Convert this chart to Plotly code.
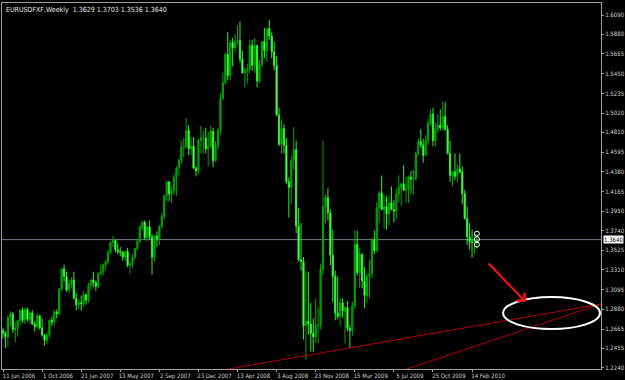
import pandas as pd
import plotly.graph_objects as go

symbol_title = "EURUSDFXF,Weekly"
week_start = "2006-06-11"
first_open = 1.2650

closes = [
    1.2620, 1.2580, 1.2790, 1.2830, 1.2660, 1.2670, 1.2760, 1.2870, 1.2760, 1.2880,
    1.2770, 1.2840, 1.2720, 1.2690, 1.2810, 1.2680, 1.2600, 1.2540, 1.2600, 1.2760,
    1.2740, 1.2850, 1.2830, 1.3100, 1.3320, 1.3240, 1.3090, 1.3160, 1.3200, 1.3000,
    1.2930, 1.2950, 1.2940, 1.3040, 1.2980, 1.3140, 1.3200, 1.3170, 1.3130, 1.3270,
    1.3290, 1.3360, 1.3400, 1.3500, 1.3610, 1.3630, 1.3530, 1.3510, 1.3500, 1.3450,
    1.3510, 1.3360, 1.3370, 1.3450, 1.3540, 1.3620, 1.3780, 1.3830, 1.3660, 1.3780,
    1.3670, 1.3450, 1.3680, 1.3650, 1.3780, 1.3890, 1.4120, 1.4270, 1.4140, 1.4180,
    1.4320, 1.4420, 1.4500, 1.4650, 1.4650, 1.4830, 1.4630, 1.4660, 1.4420, 1.4390,
    1.4720, 1.4750, 1.4750, 1.4630, 1.4660, 1.4820, 1.4500, 1.4660, 1.4830, 1.5180,
    1.5350, 1.5660, 1.5430, 1.5790, 1.5730, 1.5800, 1.5810, 1.5610, 1.5460, 1.5480,
    1.5500, 1.5760, 1.5540, 1.5760, 1.5370, 1.5550, 1.5800, 1.5700, 1.5940, 1.5860,
    1.5690, 1.5540, 1.5000, 1.4680, 1.4850, 1.4670, 1.4270, 1.4210, 1.4500, 1.4620,
    1.3790, 1.3420, 1.3400, 1.2700, 1.2750, 1.2720, 1.2620, 1.2580, 1.2700, 1.2710,
    1.3320, 1.4000, 1.4100, 1.3930, 1.3470, 1.3240, 1.2840, 1.2800, 1.2950, 1.2860,
    1.2900, 1.2670, 1.2650, 1.2920, 1.3590, 1.3280, 1.3480, 1.3190, 1.3030, 1.3240,
    1.3270, 1.3640, 1.3520, 1.3990, 1.4150, 1.3970, 1.4000, 1.3920, 1.4040, 1.3970,
    1.3950, 1.4140, 1.4210, 1.4250, 1.4180, 1.4190, 1.4320, 1.4300, 1.4310, 1.4580,
    1.4710, 1.4670, 1.4560, 1.4720, 1.4910, 1.5010, 1.4720, 1.4850, 1.4890, 1.4860,
    1.4980, 1.4840, 1.4580, 1.4340, 1.4380, 1.4330, 1.4410, 1.4380, 1.4140, 1.3870,
    1.3670, 1.3620, 1.3610, 1.3629, 1.3640,
]
highs = [
    1.2680, 1.2640, 1.2810, 1.2860, 1.2850, 1.2740, 1.2760, 1.2880, 1.2900, 1.2900,
    1.2900, 1.2860, 1.2870, 1.2750, 1.2840, 1.2820, 1.2780, 1.2610, 1.2630, 1.2770,
    1.2800, 1.2870, 1.2880, 1.3110, 1.3330, 1.3367, 1.3290, 1.3210, 1.3230, 1.3290,
    1.3060, 1.2990, 1.3030, 1.3080, 1.3050, 1.3170, 1.3210, 1.3290, 1.3190, 1.3280,
    1.3370, 1.3380, 1.3420, 1.3530, 1.3620, 1.3682, 1.3640, 1.3600, 1.3560, 1.3520,
    1.3520, 1.3550, 1.3400, 1.3480, 1.3550, 1.3650, 1.3800, 1.3850, 1.3850, 1.3790,
    1.3850, 1.3700, 1.3690, 1.3730, 1.3800, 1.3930, 1.4130, 1.4280, 1.4280, 1.4230,
    1.4350, 1.4440, 1.4530, 1.4730, 1.4750, 1.4966, 1.4890, 1.4760, 1.4760, 1.4440,
    1.4740, 1.4880, 1.4830, 1.4860, 1.4820, 1.4880, 1.4860, 1.4720, 1.4860, 1.5240,
    1.5460, 1.5680, 1.5904, 1.5820, 1.5840, 1.5880, 1.5980, 1.6019, 1.5700, 1.5520,
    1.5560, 1.5820, 1.5820, 1.5840, 1.5760, 1.5600, 1.5800, 1.5950, 1.5950, 1.6038,
    1.5900, 1.5800, 1.5640, 1.5080, 1.4940, 1.4900, 1.4750, 1.4320, 1.4560, 1.4867,
    1.4720, 1.3990, 1.3820, 1.3450, 1.3300, 1.3290, 1.2950, 1.2780, 1.3000, 1.2900,
    1.3380, 1.4719, 1.4130, 1.4200, 1.3970, 1.3750, 1.3300, 1.3240, 1.3000, 1.3000,
    1.2910, 1.2970, 1.2710, 1.2960, 1.3740, 1.3740, 1.3550, 1.3490, 1.3340, 1.3270,
    1.3420, 1.3660, 1.3740, 1.4050, 1.4170, 1.4340, 1.4130, 1.4110, 1.4120, 1.4220,
    1.4070, 1.4200, 1.4340, 1.4250, 1.4450, 1.4330, 1.4340, 1.4390, 1.4400, 1.4600,
    1.4740, 1.4845, 1.4740, 1.4780, 1.4960, 1.5060, 1.5080, 1.4920, 1.5010, 1.5060,
    1.5144, 1.5140, 1.4890, 1.4720, 1.4390, 1.4580, 1.4460, 1.4580, 1.4440, 1.4180,
    1.4000, 1.3820, 1.3750, 1.3690, 1.3703,
]
lows = [
    1.2560, 1.2457, 1.2470, 1.2700, 1.2620, 1.2520, 1.2580, 1.2700, 1.2730, 1.2720,
    1.2750, 1.2720, 1.2710, 1.2640, 1.2660, 1.2660, 1.2580, 1.2484, 1.2500, 1.2570,
    1.2700, 1.2700, 1.2780, 1.2830, 1.3080, 1.3180, 1.3070, 1.3060, 1.3110, 1.2990,
    1.2870, 1.2880, 1.2866, 1.2900, 1.2930, 1.2950, 1.3090, 1.3120, 1.3080, 1.3110,
    1.3250, 1.3250, 1.3310, 1.3370, 1.3480, 1.3560, 1.3500, 1.3480, 1.3460, 1.3410,
    1.3410, 1.3340, 1.3270, 1.3330, 1.3420, 1.3520, 1.3600, 1.3740, 1.3640, 1.3620,
    1.3640, 1.3260, 1.3400, 1.3560, 1.3580, 1.3760, 1.3860, 1.4060, 1.4060, 1.4040,
    1.4120, 1.4120, 1.4340, 1.4460, 1.4540, 1.4650, 1.4560, 1.4560, 1.4410, 1.4330,
    1.4350, 1.4580, 1.4580, 1.4580, 1.4440, 1.4640, 1.4430, 1.4490, 1.4620, 1.4780,
    1.5160, 1.5330, 1.5380, 1.5380, 1.5530, 1.5680, 1.5760, 1.5570, 1.5450, 1.5300,
    1.5340, 1.5450, 1.5480, 1.5460, 1.5300, 1.5350, 1.5520, 1.5620, 1.5580, 1.5820,
    1.5620, 1.5490, 1.4990, 1.4660, 1.4580, 1.4580, 1.4250, 1.3880, 1.4030, 1.4400,
    1.3710, 1.3400, 1.3300, 1.2550, 1.2330, 1.2600, 1.2420, 1.2420, 1.2510, 1.2510,
    1.2660, 1.3250, 1.3820, 1.3850, 1.3360, 1.2960, 1.2760, 1.2770, 1.2700, 1.2790,
    1.2510, 1.2640, 1.2457, 1.2590, 1.2880, 1.3250, 1.3110, 1.3110, 1.2890, 1.2950,
    1.3000, 1.3220, 1.3480, 1.3500, 1.3820, 1.3960, 1.3760, 1.3750, 1.3800, 1.3960,
    1.3830, 1.3860, 1.4050, 1.4010, 1.4170, 1.4040, 1.4040, 1.4140, 1.4130, 1.4280,
    1.4550, 1.4640, 1.4480, 1.4560, 1.4670, 1.4880, 1.4660, 1.4660, 1.4800, 1.4830,
    1.4830, 1.4830, 1.4570, 1.4270, 1.4220, 1.4290, 1.4260, 1.4360, 1.4030, 1.3860,
    1.3580, 1.3530, 1.3444, 1.3480, 1.3536,
]
opens = [first_open] + closes[:-1]
dates = pd.date_range(week_start, periods=len(closes), freq="7D")

price_ticks = [1.2240, 1.2455, 1.2665, 1.2880, 1.3095, 1.3310, 1.3525, 1.3740, 1.3950,
               1.4165, 1.4380, 1.4595, 1.4810, 1.5020, 1.5235, 1.5450, 1.5665, 1.5880, 1.6090]
date_ticks = ["2006-06-11", "2006-10-01", "2007-01-21", "2007-05-13", "2007-09-02",
              "2007-12-23", "2008-04-13", "2008-08-03", "2008-11-23", "2009-03-15",
              "2009-07-05", "2009-10-25", "2010-02-14"]
date_tick_labels = ["11 Jun 2006", "1 Oct 2006", "21 Jan 2007", "13 May 2007", "2 Sep 2007",
                    "23 Dec 2007", "13 Apr 2008", "3 Aug 2008", "23 Nov 2008", "15 Mar 2009",
                    "5 Jul 2009", "25 Oct 2009", "14 Feb 2010"]

# drawn objects (time, price)
trendlines = [
    (("2008-03-20", 1.2229), ("2011-02-18 12:00", 1.2938)),
    (("2009-08-11", 1.2229), ("2011-02-18 12:00", 1.2938)),
]
arrow_tail = ("2010-03-29", 1.3396)
arrow_tip = ("2010-07-18", 1.2960)
ellipse_box = (("2010-05-14", 1.2665), ("2011-02-15 14:00", 1.3014))
marker_dates = ["2010-02-28", "2010-02-28", "2010-02-28"]
marker_prices = [1.3705, 1.3645, 1.3585]

x_range = ["2006-06-08 03:00", "2011-02-18 12:00"]
y_range = [1.2229, 1.6221]

FONT = "DejaVu Sans Condensed, Liberation Sans, Arial, sans-serif"
FS = 6

fig = go.Figure()
fig.add_trace(go.Candlestick(
    x=dates, open=opens, high=highs, low=lows, close=closes,
    increasing=dict(line=dict(color="#00A800", width=1), fillcolor="#008C00"),
    decreasing=dict(line=dict(color="#2CF02C", width=1), fillcolor="#8CFF8C"),
    whiskerwidth=0, showlegend=False, hoverinfo="skip",
))
fig.add_trace(go.Scatter(
    x=marker_dates, y=marker_prices, mode="markers",
    marker=dict(symbol="circle-open", size=5, color="white", line=dict(width=1, color="white")),
    showlegend=False, hoverinfo="skip",
))

shapes = []
for (d0, p0), (d1, p1) in trendlines:
    shapes.append(dict(type="line", xref="x", yref="y", x0=d0, y0=p0, x1=d1, y1=p1,
                       line=dict(color="#B00000", width=1)))
shapes.append(dict(type="line", xref="paper", yref="y", x0=0, x1=1,
                   y0=closes[-1], y1=closes[-1], line=dict(color="#708090", width=1), layer="below"))
shapes.append(dict(type="circle", xref="x", yref="y",
                   x0=ellipse_box[0][0], y0=ellipse_box[0][1],
                   x1=ellipse_box[1][0], y1=ellipse_box[1][1],
                   line=dict(color="white", width=2)))

annotations = [
    dict(x=arrow_tip[0], y=arrow_tip[1], ax=arrow_tail[0], ay=arrow_tail[1],
         xref="x", yref="y", axref="x", ayref="y", text="", showarrow=True,
         arrowhead=4, arrowsize=1.1, arrowwidth=2, arrowcolor="#FF1010"),
    dict(x=0, y=1, xref="paper", yref="paper", xanchor="left", yanchor="top",
         xshift=2, yshift=-1, showarrow=False,
         text=f"{symbol_title}  {opens[-1]:.4f} {highs[-1]:.4f} {lows[-1]:.4f} {closes[-1]:.4f}",
         font=dict(family=FONT, size=7, color="#E8E8E8")),
    dict(x=1, y=closes[-1], xref="paper", yref="y", xanchor="left", yanchor="middle",
         xshift=2, showarrow=False, text=f"{closes[-1]:.4f}",
         bgcolor="white", borderpad=0, font=dict(family=FONT, size=FS, color="black")),
]

fig.update_layout(
    width=625, height=380,
    margin=dict(l=2, r=24, t=3, b=11, autoexpand=False),
    paper_bgcolor="black", plot_bgcolor="black",
    shapes=shapes, annotations=annotations,
    showlegend=False,
    font=dict(family=FONT, size=FS, color="#D0D0D0"),
)
fig.update_xaxes(
    type="date", range=x_range, rangeslider=dict(visible=False),
    tickvals=date_ticks, ticktext=date_tick_labels, tickangle=0, automargin=False,
    ticks="outside", ticklen=2, tickcolor="#A0A0A0", ticklabelshift=16,
    ticklabeloverflow="allow", ticklabelstandoff=-1,
    showgrid=False, zeroline=False,
    showline=True, linecolor="#A0A0A0", linewidth=1, mirror=True,
    tickfont=dict(family=FONT, size=FS, color="#D0D0D0"),
)
fig.update_yaxes(
    side="right", range=y_range, tickvals=price_ticks, automargin=False,
    ticktext=[f"{v:.4f}" for v in price_ticks], ticklabeloverflow="allow",
    ticks="outside", ticklen=2, tickcolor="#A0A0A0",
    showgrid=False, zeroline=False,
    showline=True, linecolor="#A0A0A0", linewidth=1, mirror=True,
    tickfont=dict(family=FONT, size=FS, color="#D0D0D0"),
)

fig.write_html("out.html")
